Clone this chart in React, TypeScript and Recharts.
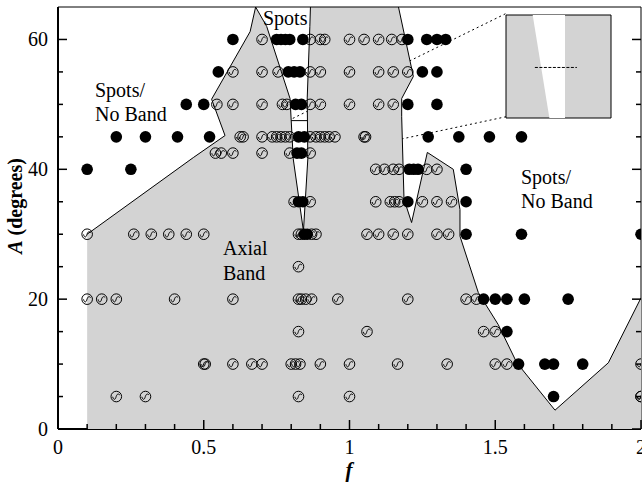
import React from 'react';
import { ScatterChart, Scatter, XAxis, YAxis, ReferenceArea, ReferenceLine } from 'recharts';

const FONT = '"Liberation Serif", "Times New Roman", serif';
const GRAY = '#d3d3d3';

// ---------- axes ----------
const xTicks = [0, 0.1, 0.2, 0.3, 0.4, 0.5, 0.6, 0.7, 0.8, 0.9, 1, 1.1, 1.2, 1.3, 1.4, 1.5, 1.6, 1.7, 1.8, 1.9, 2];
const xMajor = [0, 0.5, 1, 1.5, 2];
const xLabels = ['0', '0.5', '1', '1.5', '2'];
const yTicks = [0, 5, 10, 15, 20, 25, 30, 35, 40, 45, 50, 55, 60];
const yMajor = [0, 20, 40, 60];
const yLabels = ['0', '20', '40', '60'];

// ---------- regime boundary (f, A) ----------
const edgeLeft = [
  { f: 0.1, A: 30 }, { f: 0.464, A: 41.8 }, { f: 0.573, A: 45.2 }, { f: 0.527, A: 50.8 },
  { f: 0.659, A: 61.2 }, { f: 0.678, A: 65 },
];
const edgeChannel = [
  { f: 0.716, A: 62 }, { f: 0.796, A: 50.9 }, { f: 0.807, A: 41.6 }, { f: 0.842, A: 30.5 },
  { f: 0.857, A: 41.6 }, { f: 0.855, A: 51 }, { f: 0.864, A: 62 }, { f: 0.866, A: 65 },
];
const edgeRight = [
  { f: 1.168, A: 65 }, { f: 1.219, A: 54.3 }, { f: 1.179, A: 50.9 }, { f: 1.179, A: 48.1 },
  { f: 1.187, A: 35.4 }, { f: 1.213, A: 31.8 }, { f: 1.267, A: 42.6 }, { f: 1.356, A: 40 },
  { f: 1.379, A: 33.8 }, { f: 1.379, A: 29.7 }, { f: 1.442, A: 21 }, { f: 1.51, A: 16.1 },
  { f: 1.574, A: 10.2 }, { f: 1.705, A: 2.9 }, { f: 1.888, A: 10.2 }, { f: 2, A: 20.2 },
];
const fillStart = [{ f: 0.1, A: 0 }];
const fillEnd = [{ f: 2, A: 0 }];

// ---------- observations ----------
const spotsRows: Array<[number, number[]]> = [
  [60, [0.6, 0.75, 0.765, 0.78, 0.795, 0.84, 1.2, 1.265, 1.3, 1.33]],
  [55, [0.55, 0.79, 0.81, 0.83, 1.25, 1.3]],
  [50, [0.44, 0.5, 0.815, 0.835, 1.2, 1.3]],
  [45, [0.2, 0.3, 0.41, 0.52, 0.825, 0.845, 1.27, 1.375, 1.48, 1.59]],
  [42.5, [0.82, 0.835]],
  [40, [0.1, 0.25, 1.205, 1.22, 1.235, 1.4]],
  [35, [0.825, 0.84, 1.2, 1.4]],
  [30, [0.845, 0.855, 1.4, 1.59, 2]],
  [20, [1.46, 1.5, 1.54, 1.6, 1.75]],
  [15, [1.54]],
  [10, [1.58, 1.67, 1.7, 1.8]],
  [5, [1.7]],
];
const bandRows: Array<[number, number[]]> = [
  [60, [0.7, 0.865, 0.9, 0.915, 1.0, 1.05, 1.1, 1.145, 1.18]],
  [55, [0.6, 0.7, 0.755, 0.865, 0.9, 1.0, 1.1, 1.15, 1.2]],
  [50, [0.545, 0.6, 0.7, 0.77, 0.785, 0.865, 0.9, 1.0, 1.1, 1.15]],
  [45, [0.625, 0.635, 0.7, 0.735, 0.75, 0.765, 0.78, 0.795, 0.865, 0.885, 0.9, 0.915, 0.93, 0.95, 1.05, 1.055]],
  [42.5, [0.54, 0.56, 0.6, 0.7, 0.795, 0.865]],
  [40, [1.09, 1.12, 1.15, 1.17, 1.265, 1.3]],
  [35, [0.81, 0.865, 1.09, 1.14, 1.155, 1.17, 1.25, 1.3, 1.35]],
  [30, [0.1, 0.26, 0.32, 0.38, 0.44, 0.5, 0.825, 0.835, 0.87, 0.885, 1.06, 1.1, 1.15, 1.2, 1.3, 1.34]],
  [25, [0.825]],
  [20, [0.1, 0.15, 0.2, 0.4, 0.6, 0.825, 0.835, 0.85, 0.87, 0.96, 1.2, 1.4, 1.435]],
  [15, [0.825, 1.06, 1.46, 1.5]],
  [10, [0.5, 0.505, 0.6, 0.665, 0.7, 0.8, 0.815, 0.83, 0.9, 1.0, 1.165, 1.335, 1.5, 1.54, 2]],
  [5, [0.2, 0.3, 0.825, 1.0, 2, 2]],
];

// ---------- zoom box & inset ----------
const zoomBox = { f1: 0.79, f2: 0.91, A1: 42.1, A2: 47.5 };
const insetCorners = { f: 1.537, Atop: 64, Abottom: 48.1 };
const insetChannel = [
  { f: 0.8205, A: 47.5 }, { f: 0.8396, A: 42.1 }, { f: 0.8574, A: 42.1 }, { f: 0.8574, A: 47.5 },
];
const insetMarker = [{ f: 0.823, A: 44.75 }, { f: 0.871, A: 44.75 }];

const flatten = (rows: Array<[number, number[]]>) =>
  rows.flatMap(([A, fs]) => fs.map((f) => ({ f, A })));

const spots = flatten(spotsRows);
const band = flatten(bandRows);
const bandEdge = [...edgeLeft, ...edgeChannel, ...edgeRight];
const bandFill = [...fillStart, ...bandEdge, ...fillEnd];

const NoShape = () => <g />;

const FilledDot = (p: any) => <circle cx={p.cx} cy={p.cy} r={5.8} fill="#000" />;

const WaveDot = (p: any) => (
  <g transform={`translate(${p.cx},${p.cy})`}>
    <circle r={5.3} fill="none" stroke="#000" strokeWidth={1} />
    <path
      d="M-3.6,0.2 C-2.9,3.6 -1.1,3.4 -0.4,0.9 S 1.4,-3.8 3.5,-1.6"
      fill="none"
      stroke="#000"
      strokeWidth={1}
    />
  </g>
);

const XTick = (props: any) => {
  const { x, y, payload } = props;
  const i = xMajor.indexOf(payload.value);
  const major = i >= 0;
  return (
    <g>
      <line x1={x} y1={y} x2={x} y2={y - (major ? 9 : 5)} stroke="#000" strokeWidth={1.5} />
      {major && (
        <text x={x} y={y + 25} textAnchor="middle" fontSize={20} fontFamily={FONT} fill="#000">
          {xLabels[i]}
        </text>
      )}
    </g>
  );
};

const YTickLeft = (props: any) => {
  const { x, y, payload } = props;
  const i = yMajor.indexOf(payload.value);
  const major = i >= 0;
  return (
    <g>
      <line x1={x} y1={y} x2={x + (major ? 9 : 5)} y2={y} stroke="#000" strokeWidth={1.5} />
      {major && (
        <text x={x - 10} y={y} dy="0.35em" textAnchor="end" fontSize={20} fontFamily={FONT} fill="#000">
          {yLabels[i]}
        </text>
      )}
    </g>
  );
};

const YTickRight = (props: any) => {
  const { x, y, payload } = props;
  const major = yMajor.indexOf(payload.value) >= 0;
  return <line x1={x} y1={y} x2={x - (major ? 9 : 5)} y2={y} stroke="#000" strokeWidth={1.5} />;
};

const txt = { fontFamily: FONT, fontSize: 20, fill: '#000' } as const;

export default function App() {
  return (
    <div style={{ position: 'absolute', left: 0, top: 0, width: 642, height: 483, background: '#fff' }}>
      <ScatterChart width={642} height={483} margin={{ top: 7, right: 0, bottom: 0, left: 0 }}>
        <XAxis
          type="number"
          dataKey="f"
          domain={[0, 2]}
          ticks={xTicks}
          interval={0}
          allowDataOverflow
          height={54}
          tickSize={0}
          tickMargin={0}
          tickLine={false}
          axisLine={{ stroke: '#000', strokeWidth: 2 }}
          tick={<XTick />}
        />
        <YAxis
          type="number"
          dataKey="A"
          domain={[0, 65]}
          ticks={yTicks}
          interval={0}
          allowDataOverflow
          width={58}
          tickSize={0}
          tickMargin={0}
          tickLine={false}
          axisLine={{ stroke: '#000', strokeWidth: 2 }}
          tick={<YTickLeft />}
        />
        <YAxis
          yAxisId="right"
          orientation="right"
          type="number"
          dataKey="A"
          domain={[0, 65]}
          ticks={yTicks}
          interval={0}
          allowDataOverflow
          width={1}
          tickSize={0}
          tickMargin={0}
          tickLine={false}
          axisLine={false}
          tick={<YTickRight />}
        />
        <Scatter
          data={bandFill}
          line={{ fill: GRAY, stroke: 'none' }}
          lineType="joint"
          shape={NoShape}
          isAnimationActive={false}
        />
        <Scatter
          data={bandEdge}
          line={{ fill: 'none', stroke: '#000', strokeWidth: 1 }}
          lineType="joint"
          shape={NoShape}
          isAnimationActive={false}
        />
        <ReferenceArea
          x1={0}
          x2={2}
          y1={0}
          y2={65}
          fill="none"
          stroke="#000"
          strokeWidth={1}
        />
        <ReferenceArea
          x1={zoomBox.f1}
          x2={zoomBox.f2}
          y1={zoomBox.A1}
          y2={zoomBox.A2}
          fill="none"
          stroke="#000"
          strokeWidth={1}
        />
        <ReferenceLine
          segment={[{ x: zoomBox.f1, y: zoomBox.A2 }, { x: insetCorners.f, y: insetCorners.Atop }]}
          stroke="#000"
          strokeDasharray="2 3"
        />
        <ReferenceLine
          segment={[{ x: zoomBox.f2, y: zoomBox.A1 }, { x: insetCorners.f, y: insetCorners.Abottom }]}
          stroke="#000"
          strokeDasharray="2 3"
        />
        <Scatter data={band} shape={WaveDot} isAnimationActive={false} />
        <Scatter data={spots} shape={FilledDot} isAnimationActive={false} />
      </ScatterChart>

      <div style={{ position: 'absolute', left: 505, top: 14 }}>
        <ScatterChart width={107} height={105} margin={{ top: 1, right: 1, bottom: 1, left: 1 }}>
          <XAxis type="number" dataKey="f" domain={[zoomBox.f1, zoomBox.f2]} hide allowDataOverflow />
          <YAxis type="number" dataKey="A" domain={[zoomBox.A1, zoomBox.A2]} hide allowDataOverflow />
          <ReferenceArea
            x1={zoomBox.f1}
            x2={zoomBox.f2}
            y1={zoomBox.A1}
            y2={zoomBox.A2}
            fill={GRAY}
            fillOpacity={1}
            stroke="none"
          />
          <Scatter
            data={insetChannel}
            line={{ fill: '#fff', stroke: 'none' }}
            lineType="joint"
            shape={NoShape}
            isAnimationActive={false}
          />
          <Scatter
            data={insetMarker}
            line={{ fill: 'none', stroke: '#000', strokeWidth: 1, strokeDasharray: '3 1.5' }}
            lineType="joint"
            shape={NoShape}
            isAnimationActive={false}
          />
          <ReferenceArea
            x1={zoomBox.f1}
            x2={zoomBox.f2}
            y1={zoomBox.A1}
            y2={zoomBox.A2}
            fill="none"
            stroke="#000"
            strokeWidth={1}
          />
        </ScatterChart>
      </div>

      <svg
        width={642}
        height={483}
        style={{ position: 'absolute', left: 0, top: 0, pointerEvents: 'none' }}
      >
        <text x={263} y={24.5} {...txt}>Spots</text>
        <text x={95} y={96.5} {...txt}>Spots/</text>
        <text x={95} y={120.5} {...txt}>No Band</text>
        <text x={223} y={255} {...txt}>Axial</text>
        <text x={223} y={279.5} {...txt}>Band</text>
        <text x={521} y={183.5} {...txt}>Spots/</text>
        <text x={521} y={208} {...txt}>No Band</text>
        <text
          transform="translate(22,206) rotate(-90)"
          textAnchor="middle"
          fontFamily={FONT}
          fontSize={20}
          fontWeight="bold"
          fill="#000"
        >
          <tspan fontStyle="italic">A</tspan>
          {' (degrees)'}
        </text>
        <text
          x={349}
          y={477}
          textAnchor="middle"
          fontFamily={FONT}
          fontSize={21}
          fontWeight="bold"
          fontStyle="italic"
          fill="#000"
        >
          f
        </text>
      </svg>
    </div>
  );
}
